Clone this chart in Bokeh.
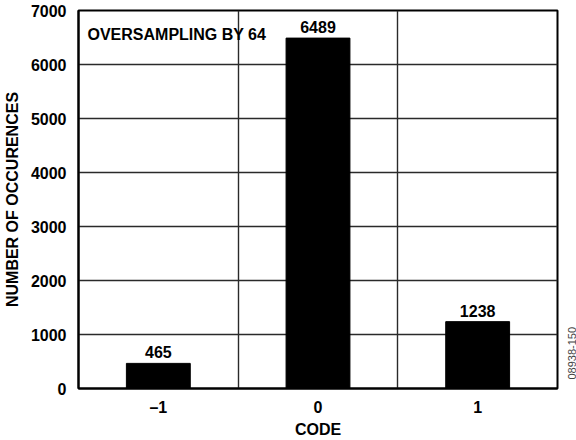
from bokeh.plotting import figure
from bokeh.layouts import row
from bokeh.models import ColumnDataSource, FixedTicker, Label, Range1d
from bokeh.core.properties import value
from bokeh.embed import file_html
from bokeh.resources import INLINE

# ---- data ----
codes = [-1, 0, 1]
code_labels = ["\u20131", "0", "1"]
occurrences = [465, 6489, 1238]
count_labels = ["465", "6489", "1238"]
y_ticks = [0, 1000, 2000, 3000, 4000, 5000, 6000, 7000]
x_bounds = [-0.5, 0.5]
note_text = "OVERSAMPLING BY 64"
figure_id = "08938-150"

FONT = "Liberation Sans"
FS = "16px"
H = 440

src = ColumnDataSource(dict(code=codes, count=occurrences, label=count_labels))

p = figure(width=562, height=H,
           x_range=Range1d(-1.5, 1.5), y_range=Range1d(0, 7000),
           output_backend="svg", toolbar_location=None,
           min_border_left=78, min_border_right=5,
           min_border_top=10, min_border_bottom=52,
           background_fill_color="white", border_fill_color="white")

p.vbar(x="code", top="count", width=0.4, source=src,
       fill_color="black", line_color="black")

p.text(x="code", y="count", text="label", source=src,
       text_align="center", text_baseline="bottom", y_offset=-5,
       text_font=value(FONT), text_font_style="bold",
       text_font_size=FS, text_color="black")

# grids
p.xgrid.ticker = FixedTicker(ticks=x_bounds)
p.ygrid.ticker = FixedTicker(ticks=y_ticks)
for g in (p.xgrid, p.ygrid):
    g.grid_line_color = "#2a2a2a"
    g.grid_line_width = 1.4

p.outline_line_color = "black"
p.outline_line_width = 2

# axes
p.xaxis.ticker = FixedTicker(ticks=codes)
p.xaxis.major_label_overrides = dict(zip(codes, code_labels))
p.yaxis.ticker = FixedTicker(ticks=y_ticks)
p.xaxis.axis_label = "CODE"
p.yaxis.axis_label = "NUMBER OF OCCURENCES"
for ax in (p.xaxis, p.yaxis):
    ax.major_tick_out = 0
    ax.major_tick_in = 0
    ax.minor_tick_out = 0
    ax.minor_tick_in = 0
    ax.axis_line_color = "black"
    ax.axis_line_width = 2
    ax.major_label_text_font = FONT
    ax.major_label_text_font_style = "bold"
    ax.major_label_text_font_size = FS
    ax.major_label_text_color = "black"
    ax.axis_label_text_font = FONT
    ax.axis_label_text_font_style = "bold"
    ax.axis_label_text_font_size = FS
    ax.axis_label_text_color = "black"
p.xaxis.major_label_standoff = 10
p.xaxis.axis_label_standoff = 2
p.yaxis.major_label_standoff = 12
p.yaxis.axis_label_standoff = 7

p.add_layout(Label(x=-1.5, y=7000, x_offset=9, y_offset=-24, text=note_text,
                   text_baseline="middle", text_align="left",
                   text_font=FONT, text_font_style="bold",
                   text_font_size=FS, text_color="black"))

# narrow side strip carrying the figure id, read bottom-to-top
side = figure(width=14, height=H, x_range=Range1d(0, 14), y_range=Range1d(0, H),
              output_backend="svg", toolbar_location=None,
              x_axis_type=None, y_axis_type=None, min_border=0,
              outline_line_color=None, background_fill_color="white",
              border_fill_color="white")
side.grid.visible = False
side.add_layout(Label(x=9, y=41, text=figure_id, angle=90, angle_units="deg",
                      text_baseline="middle", text_align="center",
                      text_font=FONT, text_font_size="11px", text_color="#444444"))

layout = row(p, side, spacing=0)
open("out.html", "w").write(file_html(layout, INLINE))
